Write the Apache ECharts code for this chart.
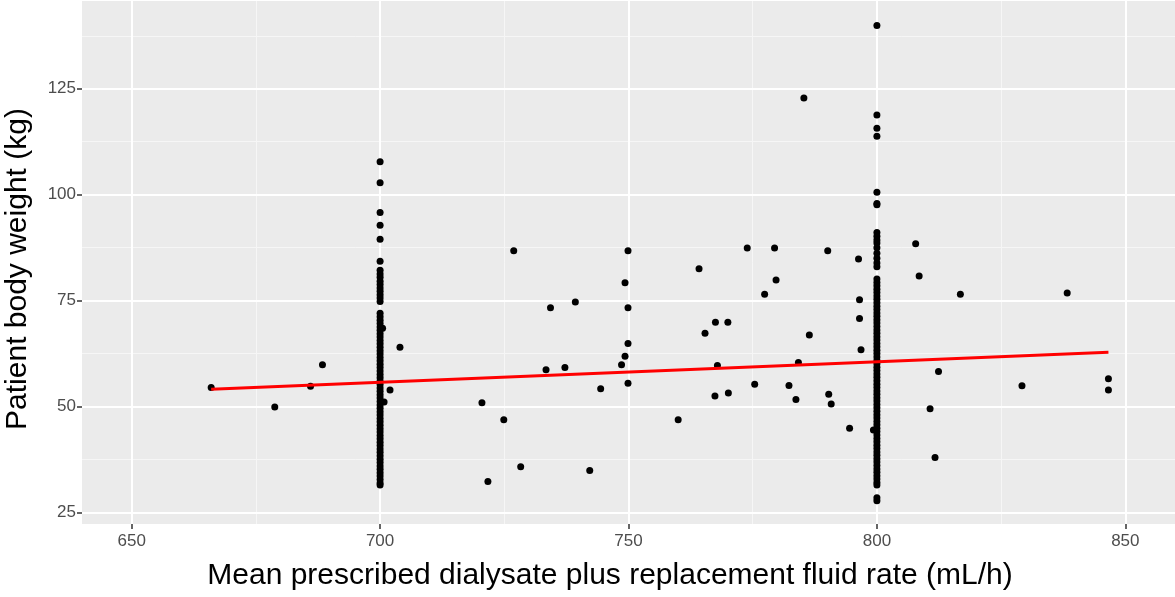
<!DOCTYPE html>
<html>
<head>
<meta charset="utf-8">
<script src="https://cdn.jsdelivr.net/npm/echarts@6/dist/echarts.min.js"></script>
<style>
html,body{margin:0;padding:0;background:#fff;}
#c{width:1175px;height:597px;}
</style>
</head>
<body>
<div id="c"></div>
<script>
// ---- data ----
const xMajor = [650, 700, 750, 800, 850];
const xMinor = [675, 725, 775, 825];
const yMajor = [25, 50, 75, 100, 125];
const yMinor = [37.5, 62.5, 87.5, 112.5, 137.5];

// weights of patients at exactly 700 mL/h
const col700 = [107.8, 102.8, 95.8, 92.8, 89.5, 84.3, 82.2, 81.3, 80.5, 79.6, 78.8, 78, 77.2, 76.4, 75.6, 74.8,
  72, 71.2, 70.4, 69.6, 68.8, 68, 67.2, 66.4, 65.6, 64.8, 64, 63.2, 62.4, 61.6, 60.8, 60, 59.2, 58.4, 57.6,
  56.8, 56, 55.2, 54.4, 53.6, 52.8, 52, 51.2, 50.4, 49.6, 48.8, 48, 47.2, 46.4, 45.6, 44.8, 44, 43.2, 42.4,
  41.6, 40.8, 40, 39.2, 38.4, 37.6, 36.8, 36, 35.2, 34.4, 33.6, 32.8, 32, 31.5];

// weights of patients at exactly 800 mL/h
const col800 = [139.9, 118.8, 115.7, 113.8, 100.6, 97.9, 97.6, 91.1, 90.2, 89.3, 88.6, 87.5, 86.2, 85, 83.9, 83,
  80.1, 79.3, 78.5, 77.7, 76.9, 76.1, 75.3, 74.5, 73.7, 72.9, 72.1, 71.3, 70.5, 69.7, 68.9, 68.1, 67.3, 66.5,
  65.7, 64.9, 64.1, 63.3, 62.5, 61.7, 60.9, 60.1, 59.3, 58.5, 57.7, 56.9, 56.1, 55.3, 54.5, 53.7, 52.9, 52.1,
  51.3, 50.5, 49.7, 48.9, 48.1, 47.3, 46.5, 45.7, 44.9, 44.1, 43.3, 42.5, 41.7, 40.9, 40.1, 39.3, 38.5, 37.7,
  36.9, 36.1, 35.3, 34.5, 33.7, 32.9, 32.1, 31.5, 28.5, 27.8];

// other patients [rate, weight]
const otherPts = [
  [666, 54.5], [678.8, 49.9], [686, 54.8], [688.4, 59.9], [700.5, 68.5], [704, 64], [702, 53.9], [700.8, 51.1],
  [720.5, 50.9], [721.7, 32.3], [724.9, 46.9], [726.9, 86.8], [728.3, 35.8], [733.4, 58.7], [734.3, 73.3],
  [737.2, 59.2], [739.3, 74.7], [742.2, 34.9], [744.4, 54.2], [748.6, 59.9], [749.3, 61.9], [749.3, 79.2],
  [749.9, 86.8], [749.9, 73.3], [749.9, 64.9], [749.9, 55.5],
  [760, 46.9], [764.2, 82.5], [765.4, 67.3], [767.5, 69.9], [767.9, 59.7], [767.4, 52.5], [770, 69.9],
  [770.1, 53.2], [773.9, 87.4], [775.4, 55.3], [777.4, 76.5], [779.4, 87.4], [779.7, 79.9], [782.3, 55],
  [783.7, 51.7], [784.2, 60.4], [785.3, 122.8], [786.4, 66.9], [790.1, 86.8], [790.3, 52.9], [790.8, 50.6],
  [794.5, 44.9], [796.3, 84.8], [796.5, 75.2], [796.5, 70.8], [796.8, 63.4], [799.3, 44.5], [807.8, 88.4],
  [808.5, 80.8], [810.7, 49.5], [811.7, 38], [812.4, 58.3], [816.8, 76.5], [829.2, 54.9], [838.3, 76.8],
  [846.6, 56.6], [846.6, 53.9]
];

// fitted linear trend (end points)
const fitLine = [[666, 54.1], [846.6, 62.8]];

// ---- chart ----
const pts = [];
col700.forEach(w => pts.push([700, w]));
col800.forEach(w => pts.push([800, w]));
otherPts.forEach(p => pts.push(p));

const FONT = "'Liberation Sans', Arial, Helvetica, sans-serif";
const chart = echarts.init(document.getElementById('c'), null, {renderer: 'canvas'});

const gridLines = [];
xMinor.forEach(v => gridLines.push({xAxis: v, lineStyle: {width: 1, color: '#F6F6F6', type: 'solid'}}));
yMinor.forEach(v => gridLines.push({yAxis: v, lineStyle: {width: 1, color: '#F6F6F6', type: 'solid'}}));
xMajor.forEach(v => gridLines.push({xAxis: v, lineStyle: {width: 2, color: '#ffffff', type: 'solid'}}));
yMajor.forEach(v => gridLines.push({yAxis: v, lineStyle: {width: 2, color: '#ffffff', type: 'solid'}}));

chart.setOption({
  animation: false,
  backgroundColor: '#ffffff',
  grid: {left: 82, right: 0, top: 1, bottom: 73, show: true, backgroundColor: '#EBEBEB', borderWidth: 0},
  xAxis: {
    type: 'value', min: 640, max: 860,
    axisLine: {show: false},
    splitLine: {show: false},
    axisTick: {show: true, customValues: xMajor, length: 5, lineStyle: {color: '#333333', width: 1.5}},
    axisLabel: {customValues: xMajor, color: '#4D4D4D', fontSize: 17, fontFamily: FONT, margin: 9}
  },
  yAxis: {
    type: 'value', min: 22.3, max: 145.7,
    axisLine: {show: false},
    splitLine: {show: false},
    axisTick: {show: true, customValues: yMajor, length: 5, lineStyle: {color: '#333333', width: 1.5}},
    axisLabel: {customValues: yMajor, color: '#4D4D4D', fontSize: 17, fontFamily: FONT, margin: 6}
  },
  graphic: [
    {type: 'text', x: 18, y: 269, rotation: Math.PI / 2,
     style: {text: 'Patient body weight (kg)', fill: '#000', font: '30px ' + FONT, textAlign: 'center', textVerticalAlign: 'middle'}},
    {type: 'text', x: 610, y: 576,
     style: {text: 'Mean prescribed dialysate plus replacement fluid rate (mL/h)', fill: '#000', font: '30px ' + FONT, textAlign: 'center', textVerticalAlign: 'middle'}}
  ],
  series: [
    {type: 'line', data: [], z: 1, silent: true,
     markLine: {silent: true, symbol: 'none', z: 1, label: {show: false}, data: gridLines}},
    {type: 'scatter', data: pts, symbolSize: 7, z: 3, itemStyle: {color: '#000000', opacity: 1}, silent: true},
    {type: 'line', data: fitLine, z: 4, symbol: 'none', silent: true, lineStyle: {color: '#FF0000', width: 3}}
  ]
});
</script>
</body>
</html>
